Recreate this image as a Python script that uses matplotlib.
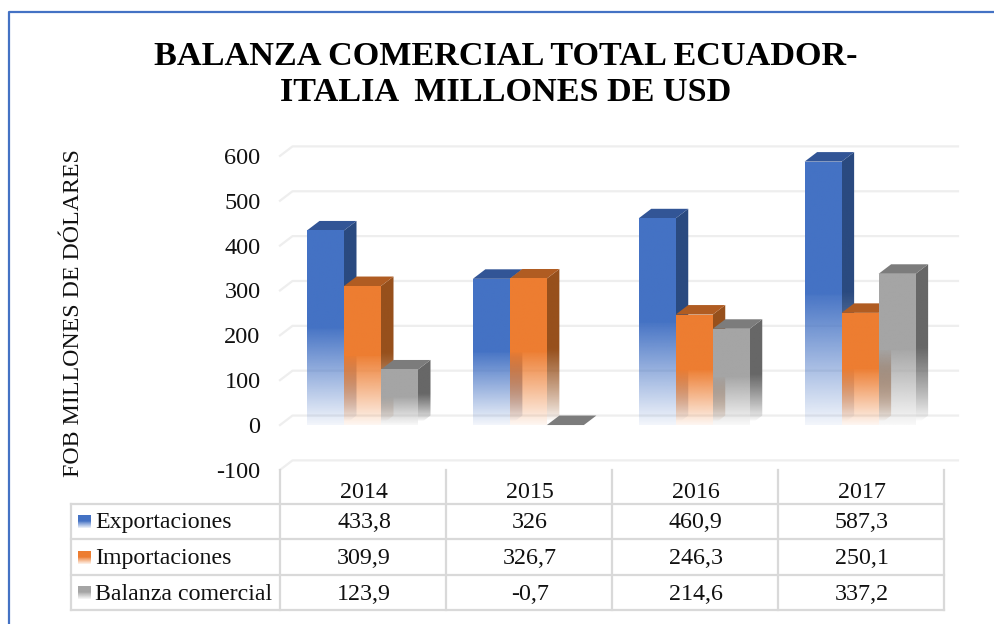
import numpy as np
import matplotlib
matplotlib.use("Agg")
import matplotlib.pyplot as plt
from matplotlib.colors import to_rgb
from matplotlib.patches import Polygon
from matplotlib.transforms import Affine2D

years = ["2014", "2015", "2016", "2017"]
exportaciones = [433.8, 326, 460.9, 587.3]
importaciones = [309.9, 326.7, 246.3, 250.1]
balanza = [123.9, -0.7, 214.6, 337.2]
series_names = ["Exportaciones", "Importaciones", "Balanza comercial"]
y_ticks = [-100, 0, 100, 200, 300, 400, 500, 600]
title_lines = ["BALANZA COMERCIAL TOTAL ECUADOR-", "ITALIA  MILLONES DE USD"]
y_label = "FOB MILLONES DE DÓLARES"

series_values = [exportaciones, importaciones, balanza]
front_cols = ["#4472c4", "#ed7d31", "#a5a5a5"]
top_cols = ["#325596", "#b05c22", "#7c7c7c"]
side_cols = ["#2a4a80", "#97501c", "#676767"]

W, H = 994, 624
plt.rcParams["font.family"] = ["Liberation Serif", "DejaVu Serif"]
plt.rcParams["axes.unicode_minus"] = False
fig = plt.figure(figsize=(W / 100, H / 100), dpi=100, facecolor="white")
px = Affine2D().scale(1, -1).translate(0, H)

# front plane of the plot
L, R, T, B = 280, 943.5, 155.9, 469.9
ax = fig.add_axes([L / W, 1 - B / H, (R - L) / W, (B - T) / H])
ax.set_xlim(0, 4)
ax.set_ylim(-100, 600)
ax.set_autoscale_on(False)
ax.patch.set_visible(False)
for s in ax.spines.values():
    s.set_visible(False)
ax.set_xticks([])
ax.set_yticks(y_ticks)
ax.tick_params(axis="y", length=0, pad=14, labelsize=17.5, labelcolor="#111111")

dep_x = 12.5 / ((R - L) / 4)          # depth of the 3D box, data units
dep_y = 9.5 / ((B - T) / 700)
right_end = 4 + 14.5 / ((R - L) / 4)
grid_col = "#eeeeee"
for t in y_ticks:
    ax.plot([0, dep_x, right_end], [t, t + dep_y, t + dep_y], color=grid_col, lw=1.6,
            clip_on=False, zorder=1)

bar_w = 37 / ((R - L) / 4)
group_off = 27.0 / ((R - L) / 4)


def gradient(color, ymin, ymax, alpha_fn):
    ys = np.linspace(ymin, ymax, 128)
    rgba = np.zeros((128, 2, 4))
    rgba[..., :3] = to_rgb(color)
    rgba[..., 3] = np.repeat(alpha_fn(ys)[:, None], 2, axis=1)
    return rgba


def face(points, color, ylo, yhi, alpha_fn, z):
    xs = [p[0] for p in points]
    im = ax.imshow(gradient(color, ylo, yhi, alpha_fn), origin="lower", aspect="auto",
                   extent=(min(xs), max(xs), ylo, yhi), interpolation="bilinear", zorder=z)
    poly = Polygon(points, closed=True, transform=ax.transData)
    im.set_clip_path(poly)
    im.set_clip_box(fig.bbox)


z = 2
for c in range(len(years)):
    for s in range(3):
        v = series_values[s][c]
        x0 = c + group_off + s * bar_w
        x1 = x0 + bar_w
        top = [(x0, v), (x0 + dep_x, v + dep_y), (x1 + dep_x, v + dep_y), (x1, v)]
        if v <= 0:
            ax.add_patch(Polygon([(x0, 0), (x0 + dep_x, dep_y), (x1 + dep_x, dep_y), (x1, 0)],
                                 closed=True, fc=top_cols[s], ec="none", zorder=z, clip_on=False))
            z += 1
            continue
        f = 0.49 * v
        side_alpha = lambda y, f=f: np.clip((y - 8) / f, 0, 1) ** 0.8
        front_alpha = lambda y, f=f: np.where(y >= f, 1.0, 0.07 + 0.9 * np.clip(y / f, 0, 1))
        face([(x1, 0), (x1 + dep_x, dep_y), (x1 + dep_x, v + dep_y), (x1, v)],
             side_cols[s], 0, v + dep_y, side_alpha, z)
        ax.add_patch(Polygon(top, closed=True, fc=top_cols[s], ec="none", zorder=z + 1, clip_on=False))
        face([(x0, 0), (x0, v), (x1, v), (x1, 0)], front_cols[s], 0, v, front_alpha, z + 2)
        z += 3

# title and axis label
for txt, yy in zip(title_lines, [56.5, 92.5]):
    fig.text(506, yy, txt, transform=px, ha="center", va="center", fontsize=24.6,
             fontweight="bold", color="black")
fig.text(74, 313.5, y_label, transform=px, rotation=90, ha="center", va="center",
         fontsize=17.2, color="#111111")

# data table
col_x = [L + i * (R - L) / 4 for i in range(5)]
row_y = [503.5, 539, 575, 610]
line_kw = dict(color="#d9d9d9", lw=1.6, transform=px, clip_on=False, zorder=1)
for y in row_y:
    ax.plot([71, R], [y, y], **line_kw)
ax.plot([71, 71], [row_y[0], row_y[-1]], **line_kw)
for x in col_x:
    ax.plot([x, x], [470, row_y[-1]], **line_kw)
for i, yr in enumerate(years):
    fig.text((col_x[i] + col_x[i + 1]) / 2 + 1, 492.5, yr, transform=px, ha="center",
             va="center", fontsize=17.3, color="#111111")
for r, name in enumerate(series_names):
    yc = (row_y[r] + row_y[r + 1]) / 2
    fig.text(95, yc + 1.5, name, transform=px, ha="left", va="center", fontsize=17.2, color="#111111")
    for i in range(4):
        fig.text((col_x[i] + col_x[i + 1]) / 2 + 1, yc + 1.5, f"{series_values[r][i]:g}".replace(".", ","),
                 transform=px, ha="center", va="center", fontsize=17.3, color="#111111")
    rgba = np.zeros((32, 2, 4))
    rgba[..., :3] = to_rgb(front_cols[r])
    rgba[..., 3] = np.repeat(np.where(np.linspace(0, 1, 32) > 0.5, 1.0,
                                      0.1 + 1.6 * np.linspace(0, 1, 32))[:, None], 2, axis=1)
    ax.imshow(rgba, origin="lower", aspect="auto", transform=px, zorder=5,
              extent=(78, 91, yc + 7, yc - 6), clip_on=False)

# outer frame
ax.plot([9, 9, W], [H, 12, 12], color="#4472c4", lw=1.6, transform=px, clip_on=False, zorder=0)

ax.set_xlim(0, 4)
ax.set_ylim(-100, 600)
fig.savefig("out.png", dpi=100, facecolor="white")
